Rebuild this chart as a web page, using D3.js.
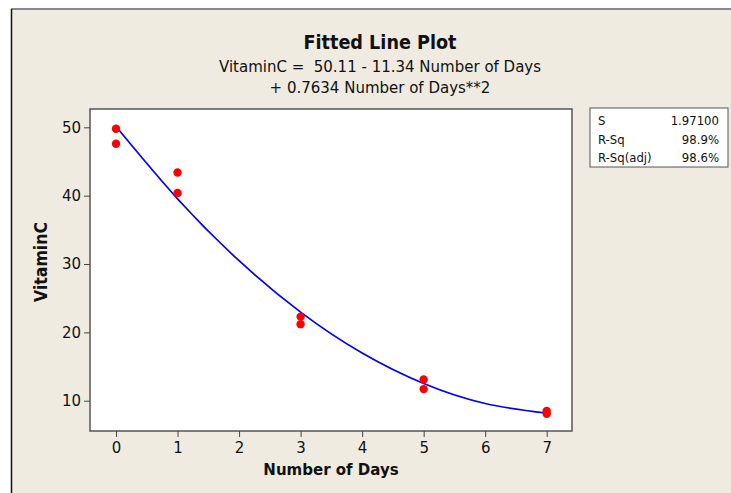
<!DOCTYPE html>
<html>
<head>
<meta charset="utf-8">
<script src="https://cdn.jsdelivr.net/npm/d3@7"></script>
<style>
  body { margin: 0; background: #fff; }
  text { font-family: "DejaVu Sans", sans-serif; fill: #111; }
  .cond { font-family: "DejaVu Sans Condensed", "DejaVu Sans", sans-serif; }
</style>
</head>
<body>
<div id="chart"></div>
<script>
// observations
const days = [0, 0, 1, 1, 3, 3, 5, 5, 7, 7]
const vitaminC = [49.8, 47.6, 43.4, 40.4, 22.3, 21.2, 13.1, 11.7, 8.5, 8.1]

// fitted curve, read at each day
const fitDays = [0, 1, 2, 3, 4, 5, 6, 7]
const fitValues = [50.11, 39.53, 30.48, 22.96, 16.97, 12.51, 9.59, 8.19]

const xTicks = [0, 1, 2, 3, 4, 5, 6, 7]
const yTicks = [10, 20, 30, 40, 50]

const statLabels = ['S', 'R-Sq', 'R-Sq(adj)']
const statValues = ['1.97100', '98.9%', '98.6%']

const width = 731; const height = 493
const plot = { left: 90, top: 109, right: 572, bottom: 431 }

const svg = d3.select('#chart').append('svg')
  .attr('width', width).attr('height', height)

// beige panel with its frame
svg.append('rect')
  .attr('x', 11).attr('y', 9).attr('width', width).attr('height', height)
  .attr('fill', '#efebe1')
svg.append('line').attr('x1', 11).attr('x2', width).attr('y1', 9).attr('y2', 9)
  .attr('stroke', '#666').attr('stroke-width', 1.5)
svg.append('line').attr('x1', 11.5).attr('x2', 11.5).attr('y1', 9).attr('y2', height)
  .attr('stroke', '#111').attr('stroke-width', 1.5)

const x = d3.scaleLinear().domain([-0.423, 7.411]).range([plot.left, plot.right])
const y = d3.scaleLinear().domain([5.57, 52.68]).range([plot.bottom, plot.top])

svg.append('rect')
  .attr('x', plot.left).attr('y', plot.top)
  .attr('width', plot.right - plot.left).attr('height', plot.bottom - plot.top)
  .attr('fill', '#fff').attr('stroke', '#555').attr('stroke-width', 1.5)

// axes
const xAxis = svg.append('g')
  .attr('transform', 'translate(0,' + plot.bottom + ')')
  .call(d3.axisBottom(x).tickValues(xTicks).tickSize(6).tickPadding(5))
xAxis.select('.domain').remove()
xAxis.selectAll('line').attr('stroke', '#444')
xAxis.selectAll('text').style('font-size', '15px').style('font-family', null)

const yAxis = svg.append('g')
  .attr('transform', 'translate(' + plot.left + ',0)')
  .call(d3.axisLeft(y).tickValues(yTicks).tickSize(6).tickPadding(3))
yAxis.select('.domain').remove()
yAxis.selectAll('line').attr('stroke', '#444')
yAxis.selectAll('text').style('font-size', '15px').style('font-family', null)

// fitted line
const line = d3.line()
  .x(d => x(d[0]))
  .y(d => y(d[1]))
  .curve(d3.curveNatural)

svg.append('path')
  .datum(d3.zip(fitDays, fitValues))
  .attr('d', line)
  .attr('fill', 'none')
  .attr('stroke', '#0000ff')
  .attr('stroke-width', 1.7)

// points
svg.selectAll('circle.pt')
  .data(d3.zip(days, vitaminC))
  .enter().append('circle')
  .attr('class', 'pt')
  .attr('cx', d => x(d[0]))
  .attr('cy', d => y(d[1]))
  .attr('r', 4.2)
  .attr('fill', '#ff0000')

// titles
svg.append('text').attr('class', 'cond').attr('x', 380).attr('y', 49).attr('text-anchor', 'middle')
  .style('font-size', '19.6px').style('font-weight', 'bold').text('Fitted Line Plot')
svg.append('text').attr('x', 380).attr('y', 72).attr('text-anchor', 'middle')
  .style('font-size', '15px').attr('xml:space', 'preserve').text('VitaminC =  50.11 - 11.34 Number of Days')
svg.append('text').attr('x', 380).attr('y', 93).attr('text-anchor', 'middle')
  .style('font-size', '15px').text('+ 0.7634 Number of Days**2')

svg.append('text').attr('class', 'cond').attr('x', 331).attr('y', 475).attr('text-anchor', 'middle')
  .style('font-size', '16.7px').style('font-weight', 'bold').text('Number of Days')
svg.append('text').attr('class', 'cond')
  .attr('transform', 'translate(47,262) rotate(-90)')
  .attr('text-anchor', 'middle')
  .style('font-size', '17.5px').style('font-weight', 'bold').text('VitaminC')

// statistics box
const box = svg.append('g').attr('transform', 'translate(590,108)')
box.append('rect').attr('width', 138).attr('height', 59)
  .attr('fill', '#fff').attr('stroke', '#555').attr('stroke-width', 1)
box.selectAll('text.lab').data(statLabels).enter().append('text')
  .attr('class', 'cond')
  .attr('x', 8).attr('y', (d, i) => 17 + i * 18.7)
  .style('font-size', '13px').text(d => d)
box.selectAll('text.val').data(statValues).enter().append('text')
  .attr('class', 'cond')
  .attr('x', 129).attr('y', (d, i) => 17 + i * 18.7).attr('text-anchor', 'end')
  .style('font-size', '13px').text(d => d)
</script>
</body>
</html>
